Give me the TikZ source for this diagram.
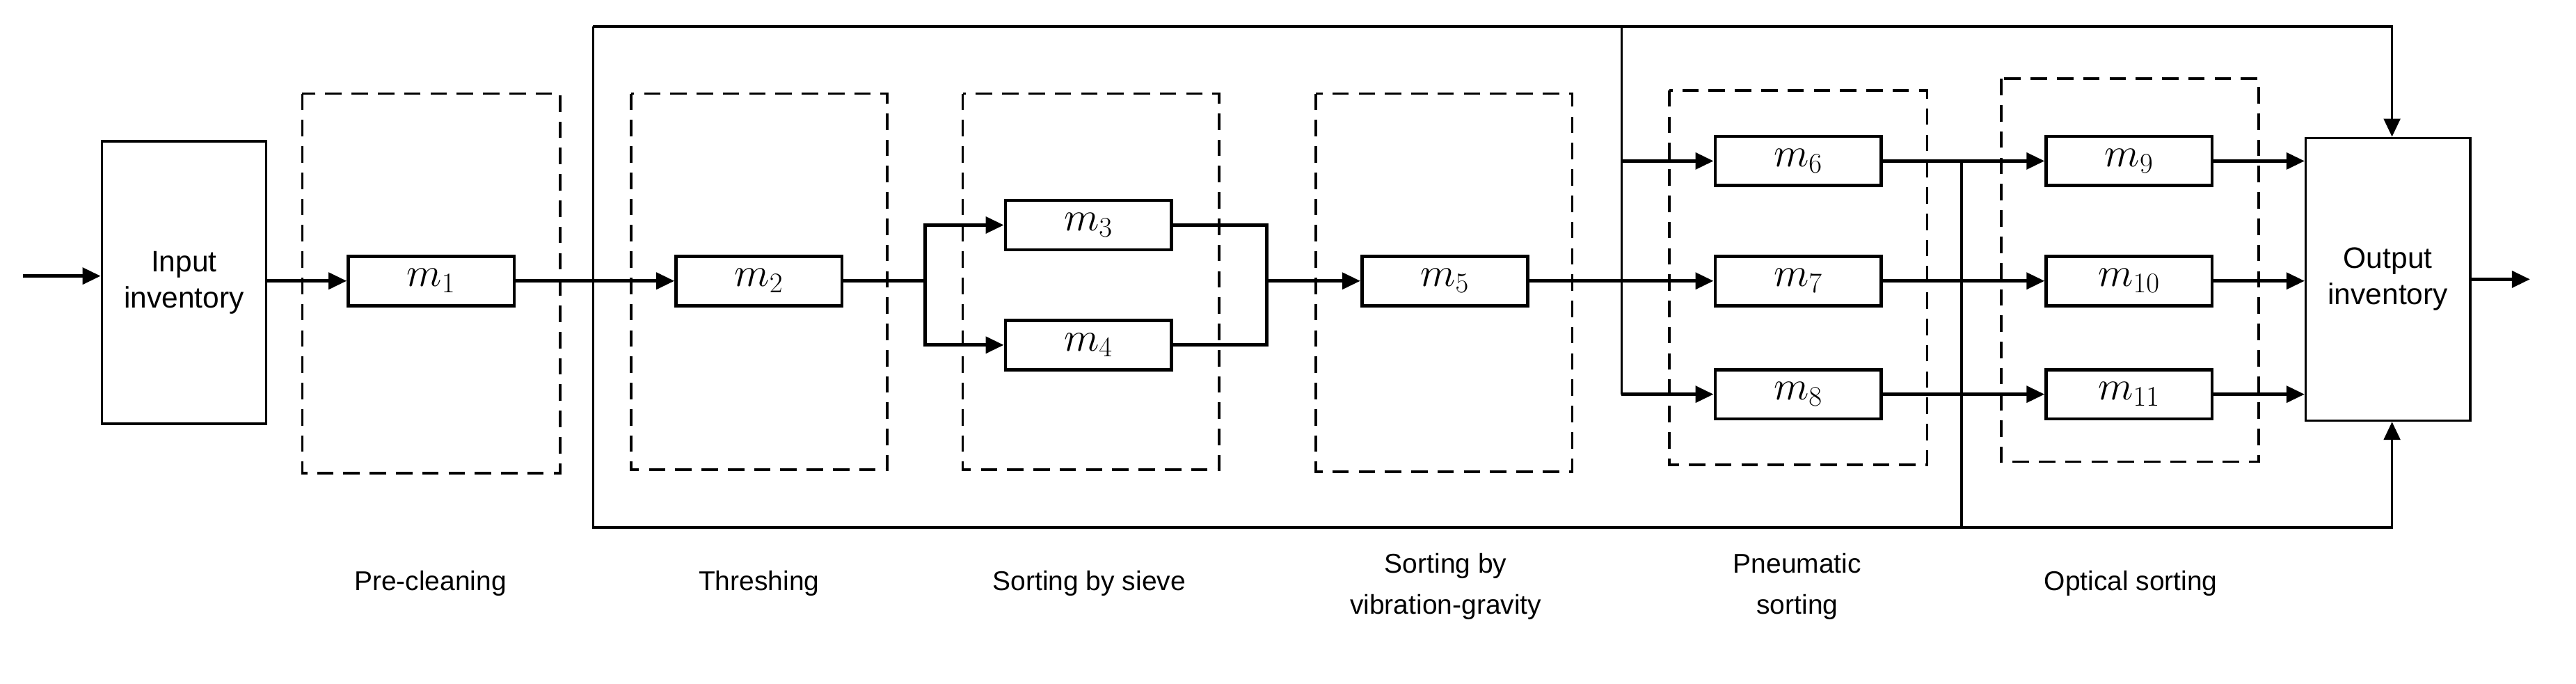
\documentclass[tikz,border=0pt]{standalone}
\usepackage{fontspec}
\setmainfont{Liberation Sans}
\usetikzlibrary{arrows.meta}
\begin{document}
\begin{tikzpicture}[x=1pt,y=-1pt,
  mbox/.style={draw,line width=2pt,minimum width=101pt,minimum height=30pt,inner sep=0pt,font=\fontsize{24}{26}\selectfont},
  inv/.style={draw,line width=1.5pt,minimum width=100pt,minimum height=172pt,inner sep=0pt,align=center,font=\fontsize{18}{22}\selectfont},
  stage/.style={draw,line width=1.6pt,dash pattern=on 10pt off 6pt},
  lbl/.style={align=center,font=\fontsize{16.5}{25}\selectfont},
  ar/.style={line width=2pt,-{Triangle[length=11pt,width=10pt]}},
  ln/.style={line width=2pt},
  frame/.style={line width=1.5pt}]
\useasboundingbox (0,0) rectangle (1568,416);
% stages
\draw[stage] (184,57) rectangle (341,288);
\draw[stage] (384,57) rectangle (540,286);
\draw[stage] (586,57) rectangle (742,286);
\draw[stage] (801,57) rectangle (957,287);
\draw[stage] (1016,55) rectangle (1173,283);
\draw[stage] (1218,48) rectangle (1375,281);
% nodes
\node[inv] (in) at (112,172) {Input\\inventory};
\node[inv] (out) at (1453.5,170) {Output\\inventory};
\node[mbox] (m1) at (262.5,171) {$m_1$};
\node[mbox] (m2) at (462,171) {$m_2$};
\node[mbox] (m3) at (662.5,137) {$m_3$};
\node[mbox] (m4) at (662.5,210) {$m_4$};
\node[mbox] (m5) at (879.5,171) {$m_5$};
\node[mbox] (m6) at (1094.5,98) {$m_6$};
\node[mbox] (m7) at (1094.5,171) {$m_7$};
\node[mbox] (m8) at (1094.5,240) {$m_8$};
\node[mbox] (m9) at (1296,98) {$m_9$};
\node[mbox] (m10) at (1296,171) {$m_{10}$};
\node[mbox] (m11) at (1296,240) {$m_{11}$};
% coordinates
\coordinate (src) at (14,168);
\coordinate (snk) at (1540,170);
\coordinate (b1) at (563,171);
\coordinate (b2) at (771,171);
\coordinate (b3) at (987,171);
\coordinate (b4) at (1194,171);
\coordinate (tl) at (361,16);
\coordinate (bl) at (361,321);
\coordinate (tr) at (1456,16);
\coordinate (br) at (1456,321);
\coordinate (t3) at (987,16);
\coordinate (c4) at (1194,321);
% frame
\draw[frame] (tl) -- (bl) -- (c4);
\draw[frame] (tl) -- (t3);
\draw[frame,-{Triangle[length=11pt,width=10pt]}] (t3) -- (tr) -- (out.north -| tr);
\draw[frame,-{Triangle[length=11pt,width=10pt]}] (c4) -- (br) -- (out.south -| br);
\draw[frame] (t3) -- (b3 |- m8.west);
\draw[frame] (b4 |- m6.east) -- (c4);
% flows
\draw[ar] (src) -- (in.west |- src);
\draw[ar] (in.east |- m1) -- (m1.west);
\draw[ar] (m1.east) -- (m2.west);
\draw[ln] (m2.east) -- (b1);
\draw[ar] (b1) |- (m3.west);
\draw[ar] (b1) |- (m4.west);
\draw[ln] (m3.east) -| (b2) |- (m4.east);
\draw[ar] (b2) -- (m5.west);
\draw[ar] (m5.east) -- (m7.west);
\draw[ar] (b3 |- m6) -- (m6.west);
\draw[ar] (b3 |- m8) -- (m8.west);
\draw[ar] (m6.east) -- (m9.west);
\draw[ar] (m7.east) -- (m10.west);
\draw[ar] (m8.east) -- (m11.west);
\draw[ar] (m9.east) -- (out.west |- m9);
\draw[ar] (m10.east) -- (out.west |- m10);
\draw[ar] (m11.east) -- (out.west |- m11);
\draw[ar] (out.east |- snk) -- (snk);
% labels
\node[lbl] (l1) at (262,355) {Pre-cleaning};
\node[lbl] (l2) at (462,355) {Threshing};
\node[lbl] (l3) at (663,355) {Sorting by sieve};
\node[lbl] (l4) at (880,357) {Sorting by\\vibration-gravity};
\node[lbl] (l5) at (1094,357) {Pneumatic\\sorting};
\node[lbl] (l6) at (1297,355) {Optical sorting};
\end{tikzpicture}
\end{document}
